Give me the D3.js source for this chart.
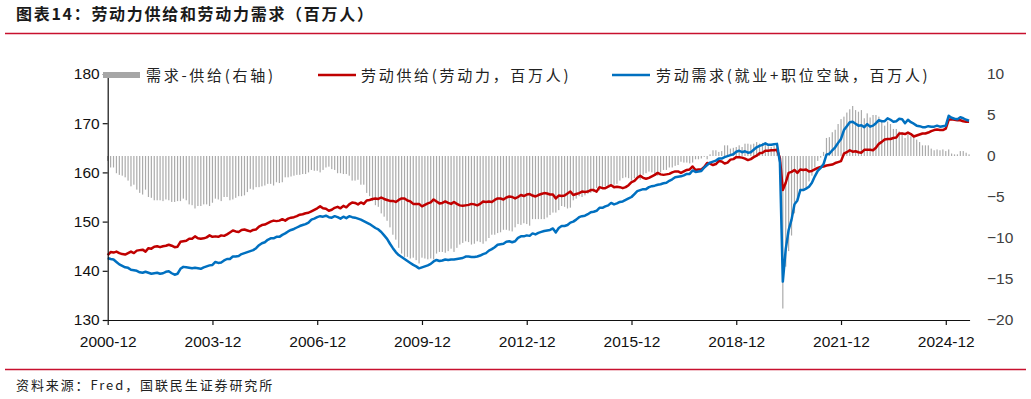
<!DOCTYPE html>
<html><head><meta charset="utf-8">
<script src="https://cdn.jsdelivr.net/npm/d3@7"></script>
<style>
body{margin:0;background:#fff;}
svg{display:block;}
</style></head><body>
<svg id="c" width="1031" height="399"></svg>
<script>
// ---- data (monthly, starting 2000-12) ----
const startYear = 2000, startMonth = 12;
const supply = [
143.2,
143.8,143.7,143.9,143.6,143.4,143.3,143.6,143.9,143.6,144.1,144.2,144.3,
143.9,144.6,144.5,144.9,145.0,144.8,145.0,145.1,145.3,145.1,144.8,144.9,
145.9,146.0,146.1,146.5,146.5,147.0,146.6,146.5,146.6,146.8,147.2,146.9,
147.0,146.9,147.2,147.1,147.4,147.8,148.2,148.0,147.9,148.3,148.4,148.2,
148.0,148.3,148.4,149.0,149.3,149.4,149.7,150.0,150.2,150.1,150.2,150.5,
150.2,150.6,150.8,150.9,151.1,151.4,151.5,151.7,151.8,152.1,152.4,152.7,
153.1,152.7,152.6,152.2,152.4,152.8,153.0,152.7,153.2,152.9,153.5,153.9,
153.8,153.5,153.9,153.6,154.3,154.4,154.6,154.7,154.6,154.9,154.6,154.4,
154.2,154.2,154.0,154.4,154.7,154.7,154.3,154.1,153.6,153.6,153.6,153.1,
153.4,153.7,153.9,154.5,154.1,153.7,153.8,154.1,153.8,153.6,154.0,153.6,
153.3,153.2,153.3,153.4,153.6,153.5,153.3,153.6,154.1,154.0,154.1,154.0,
154.4,154.7,154.7,154.5,154.9,155.1,155.0,154.7,155.0,155.4,155.2,155.5,
155.6,155.3,155.1,155.4,155.6,155.8,155.7,155.5,155.5,154.7,155.3,155.2,
155.3,155.7,156.1,155.4,155.6,155.8,156.1,156.0,156.1,156.4,156.4,156.1,
157.0,156.8,156.8,157.1,157.4,157.0,157.1,157.0,156.8,157.0,157.4,158.0,
158.3,158.9,159.3,158.9,158.7,158.9,159.2,159.5,159.9,159.6,159.5,159.6,
159.7,160.0,160.2,160.2,159.9,160.2,160.5,160.6,161.2,160.5,160.6,160.6,
161.1,161.9,161.8,161.5,161.7,162.3,162.2,161.8,162.0,162.6,162.7,163.1,
163.1,163.0,162.8,162.5,162.7,163.1,163.4,163.9,164.0,164.4,164.4,164.5,
164.5,164.6,162.9,156.4,157.9,159.9,160.1,160.5,159.9,160.6,160.5,160.6,
160.2,160.3,160.6,160.9,161.1,161.2,161.4,161.5,161.6,161.9,162.1,162.3,
163.8,164.1,164.5,164.2,164.3,164.1,164.0,164.6,164.6,164.6,164.5,165.0,
165.8,166.2,166.7,166.8,166.8,167.0,167.1,167.9,167.9,167.8,168.1,167.8,
167.3,167.5,167.7,167.9,167.9,168.1,168.4,168.6,168.7,168.6,168.6,168.9,
170.7,170.8,170.7,170.6,170.6,170.4,170.3,170.3
];
const demand = [
142.6,
142.4,142.3,141.8,141.3,141.0,140.7,140.6,140.2,140.1,140.0,139.7,139.6,
139.8,139.6,139.4,139.5,139.6,139.4,139.5,139.8,139.9,139.5,139.2,139.4,
140.4,140.8,140.7,140.6,140.5,140.6,140.5,140.4,140.7,140.9,141.1,141.2,
141.8,141.6,141.7,142.1,142.4,142.4,142.9,142.9,143.0,143.4,143.6,143.8,
144.0,144.2,144.6,145.2,145.6,145.8,146.3,146.6,146.6,146.9,146.9,147.3,
147.6,148.0,148.3,148.5,148.8,149.1,149.3,149.5,149.8,150.4,150.6,150.9,
151.1,151.0,151.2,150.9,150.8,151.1,150.9,150.6,151.0,150.7,151.1,150.9,
150.8,150.6,150.4,150.1,149.8,149.5,149.1,148.7,148.4,147.9,147.2,146.5,
145.5,144.6,143.8,143.2,142.8,142.4,142.0,141.6,141.2,140.9,140.5,140.7,
140.9,141.1,141.4,141.9,142.2,142.0,142.1,142.3,142.2,142.3,142.3,142.4,
142.5,142.6,142.9,142.9,142.8,142.8,142.9,143.1,143.4,143.6,144.1,144.4,
144.8,145.3,145.4,145.5,145.9,146.0,145.8,146.0,146.7,147.0,147.0,147.2,
147.1,147.6,147.4,147.7,147.9,148.1,148.2,148.3,148.6,147.8,148.7,149.1,
149.1,149.3,149.8,150.0,150.4,150.9,151.1,151.2,151.5,151.9,152.0,152.2,
152.8,152.8,153.1,153.3,153.8,153.5,153.7,154.0,154.1,154.4,154.7,155.0,
155.6,156.2,156.4,156.6,156.6,157.0,157.2,157.3,157.5,157.6,157.8,157.9,
158.3,158.6,159.0,159.1,159.2,159.4,159.7,159.7,160.4,160.1,160.2,160.3,
161.0,161.5,162.0,162.2,162.4,162.8,162.8,163.1,163.3,163.5,163.7,164.2,
164.4,164.1,164.3,164.0,164.1,164.6,165.1,165.4,165.6,165.9,165.6,165.6,
165.7,165.8,162.0,137.8,144.4,148.3,150.4,153.5,154.3,156.4,156.4,156.7,
157.1,157.9,159.2,160.3,160.9,161.7,163.6,163.8,164.5,165.1,166.0,166.8,
168.6,169.4,170.2,170.3,169.9,169.5,169.6,169.2,169.8,169.3,169.5,170.0,
170.6,170.4,170.4,171.0,170.7,170.3,170.4,170.9,170.8,170.0,170.7,170.2,
169.9,169.5,169.4,169.2,169.2,169.4,169.3,169.3,169.5,169.3,169.4,169.5,
171.5,171.1,170.9,170.8,171.2,171.0,170.7,170.5
];
const xTickLabels = ["2000-12","2003-12","2006-12","2009-12","2012-12","2015-12","2018-12","2021-12","2024-12"];
const leftTicks = [130,140,150,160,170,180];
const rightTicks = [-20,-15,-10,-5,0,5,10];
const seriesNames = ["需求-供给(右轴)","劳动供给(劳动力，百万人)","劳动需求(就业+职位空缺，百万人)"];
const titleText = "图表14：劳动力供给和劳动力需求（百万人）";
const sourceText = "资料来源：Fred，国联民生证券研究所";

// demand minus supply (the bar series, right axis)
const gap = demand.map((d,i)=> d - supply[i]);

// ---- drawing ----
const svg = d3.select("#c");
const RED = "#C00000", BLUE = "#0070C0", BAR = "#ababab", RULE = "#C8102E";
const cjk = "'Noto Sans CJK SC','Noto Sans',sans-serif";
const latin = "'Liberation Sans',Arial,sans-serif";

const x0 = 107.7, step = 2.91;
const x = d3.scaleLinear().domain([0, supply.length-1]).range([x0, x0 + (supply.length-1)*step]);
const yL = d3.scaleLinear().domain([130,180]).range([320,74]);
const yR = d3.scaleLinear().domain([-20,10]).range([320,74]);
const idxOf = s => { const [y,m] = s.split("-").map(Number); return (y-startYear)*12 + (m-startMonth); };

// title & rules
svg.append("text").attr("x",16).attr("y",20).text(titleText)
  .attr("font-family",cjk).attr("font-weight","bold").attr("font-size",16)
  .attr("letter-spacing",1.7).attr("fill","#1a1a1a");
svg.append("line").attr("x1",5).attr("x2",1026).attr("y1",33.5).attr("y2",33.5)
  .attr("stroke",RULE).attr("stroke-width",1.6);
svg.append("line").attr("x1",5).attr("x2",1026).attr("y1",369.5).attr("y2",369.5)
  .attr("stroke",RULE).attr("stroke-width",1.4);
svg.append("text").attr("x",16).attr("y",390).text(sourceText)
  .attr("font-family",cjk).attr("font-size",13).attr("letter-spacing",1.9).attr("fill","#222");

// bars
svg.append("g").selectAll("rect").data(gap).join("rect")
  .attr("x",(d,i)=>x(i)-0.6).attr("width",1.2)
  .attr("y",d=>Math.min(yR(0),yR(d))).attr("height",d=>Math.abs(yR(d)-yR(0)))
  .attr("fill",BAR);

// lines
const lineL = d3.line().x((d,i)=>x(i)).y(d=>yL(d));
svg.append("path").datum(supply).attr("d",lineL).attr("fill","none")
  .attr("stroke",RED).attr("stroke-width",2.5).attr("stroke-linejoin","round");
svg.append("path").datum(demand).attr("d",lineL).attr("fill","none")
  .attr("stroke",BLUE).attr("stroke-width",2.5).attr("stroke-linejoin","round");

// left axis
const gL = svg.append("g").attr("transform",`translate(${x0},0)`)
  .call(d3.axisLeft(yL).tickValues(leftTicks).tickSize(5).tickSizeOuter(0).tickPadding(3));
gL.selectAll("text").attr("font-family",latin).attr("font-size",15.5).attr("fill","#111");
gL.selectAll("line,path").attr("stroke","#111").attr("stroke-width",1.2);

// bottom axis
const gB = svg.append("g").attr("transform","translate(0,320)")
  .call(d3.axisBottom(x).tickValues(xTickLabels.map(idxOf))
    .tickFormat(i=>xTickLabels[xTickLabels.map(idxOf).indexOf(i)])
    .tickSize(5).tickSizeOuter(0).tickPadding(10.5));
gB.select(".domain").attr("d",`M${x0},0.5H${x(supply.length-1)+1}`);
gB.selectAll("text").attr("font-family",latin).attr("font-size",15.5).attr("fill","#111");
gB.selectAll("line,path").attr("stroke","#111").attr("stroke-width",1.2);

// right axis (labels only)
const gR = svg.append("g").attr("transform","translate(987,0)")
  .call(d3.axisRight(yR).tickValues(rightTicks).tickSize(0).tickPadding(0));
gR.select(".domain").remove();
gR.selectAll("text").attr("font-family",latin).attr("font-size",15.5).attr("fill","#404040");

// legend
const lg = svg.append("g");
lg.append("rect").attr("x",103).attr("y",72).attr("width",37).attr("height",6).attr("fill","#a6a6a6");
lg.append("line").attr("x1",318).attr("x2",356).attr("y1",75).attr("y2",75).attr("stroke",RED).attr("stroke-width",2.5);
lg.append("line").attr("x1",612).attr("x2",650).attr("y1",75).attr("y2",75).attr("stroke",BLUE).attr("stroke-width",2.5);
[[146,seriesNames[0]],[361,seriesNames[1]],[656,seriesNames[2]]].forEach(([lx,t])=>{
  lg.append("text").attr("x",lx).attr("y",80.5).text(t)
    .attr("font-family",cjk).attr("font-size",15).attr("letter-spacing",2.7).attr("fill","#222");
});
</script>
</body></html>
